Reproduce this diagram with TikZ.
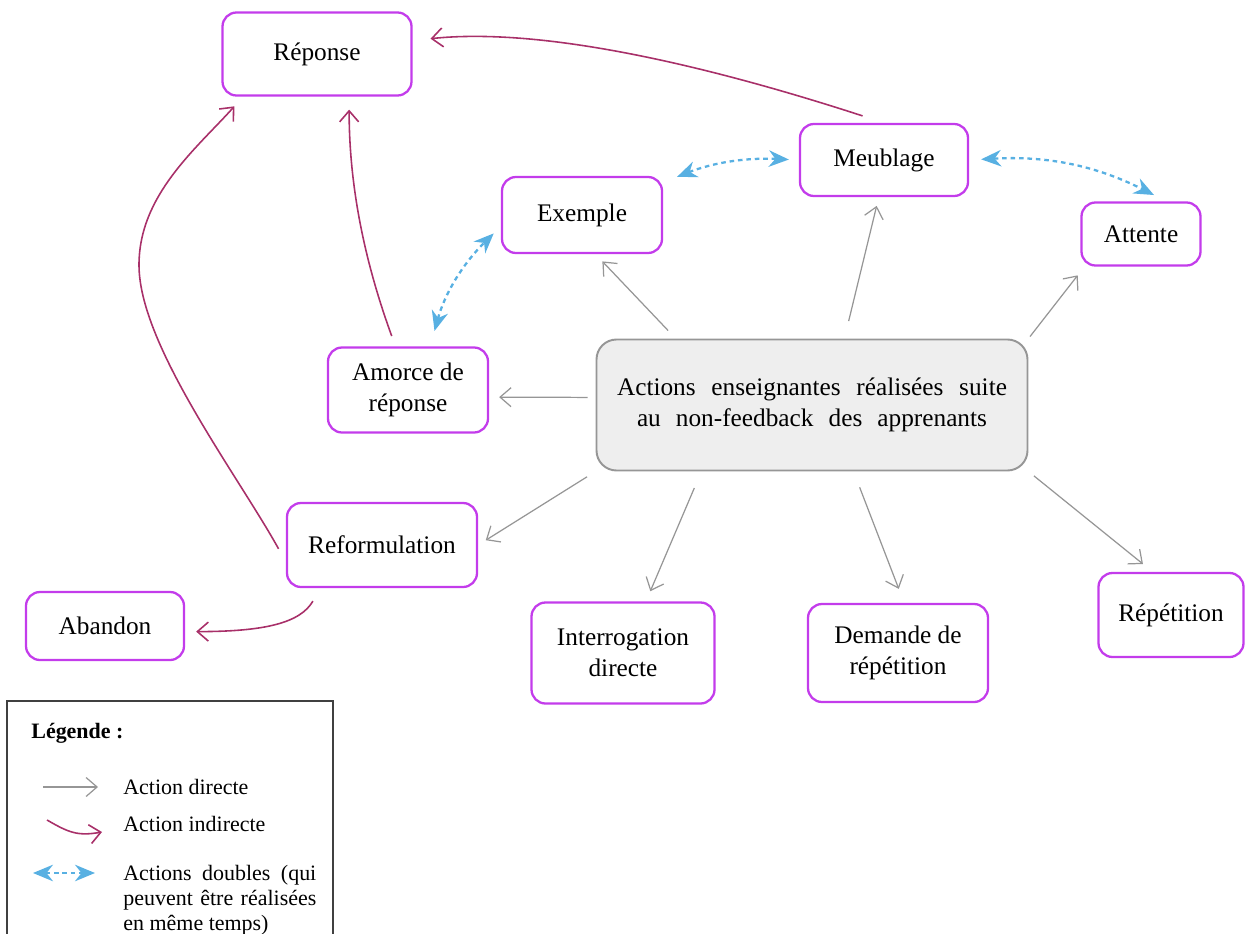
\documentclass[tikz,border=0pt]{standalone}
\usepackage{fontspec}
\setmainfont{Liberation Serif}
\usetikzlibrary{arrows.meta}
\definecolor{cadre}{RGB}{195,60,235}
\definecolor{gris}{RGB}{150,150,150}
\definecolor{indir}{RGB}{168,48,105}
\definecolor{bleu}{RGB}{88,176,226}
\definecolor{fond}{RGB}{238,238,238}

\begin{document}
\begin{tikzpicture}[
	boite/.style={draw=cadre, line width=1.3pt, rounded corners=0.28cm, align=center, inner sep=2pt, font=\fontsize{14.4}{17.5}\selectfont},
	directe/.style={gris, line width=0.7pt, -{Straight Barb[length=2.2mm,width=3.8mm]}},
	indirecte/.style={indir, line width=0.9pt, -{Straight Barb[length=2.2mm,width=3.8mm]}},
	doubles/.style={bleu, line width=1.3pt, dash pattern=on 2.6pt off 2.2pt, {Stealth[length=4mm,width=3.3mm]}-{Stealth[length=4mm,width=3.3mm]}},
	legende/.style={anchor=west, inner sep=0pt, font=\fontsize{12.5}{14.2}\selectfont}]
\useasboundingbox (0,0) rectangle (24.9,-18.68);
\node[boite, minimum width=3.78cm, minimum height=1.66cm] (rep) at (6.34,-1.08) {Réponse};
\node[boite, minimum width=3.36cm, minimum height=1.44cm] (meu) at (17.68,-3.2) {Meublage};
\node[boite, minimum width=3.2cm, minimum height=1.52cm] (exe) at (11.64,-4.3) {Exemple};
\node[boite, minimum width=2.38cm, minimum height=1.26cm] (att) at (22.82,-4.68) {Attente};
\node[boite, minimum width=3.2cm, minimum height=1.7cm] (amo) at (8.16,-7.8) {Amorce de\\réponse};
\node[draw=gris, fill=fond, line width=1.1pt, rounded corners=0.4cm, minimum width=8.62cm, minimum height=2.62cm, align=center, font=\fontsize{14.4}{18}\selectfont] (act) at (16.24,-8.1) {\makebox[7.8cm][s]{Actions enseignantes réalisées suite}\\\makebox[7cm][s]{au non-feedback des apprenants}};
\node[boite, minimum width=3.8cm, minimum height=1.68cm] (ref) at (7.64,-10.9) {Reformulation};
\node[boite, minimum width=3.16cm, minimum height=1.36cm] (aba) at (2.1,-12.52) {Abandon};
\node[boite, minimum width=3.66cm, minimum height=2.02cm] (int) at (12.46,-13.06) {Interrogation\\directe};
\node[boite, minimum width=3.6cm, minimum height=1.96cm] (dem) at (17.96,-13.06) {Demande de\\répétition};
\node[boite, minimum width=2.9cm, minimum height=1.68cm] (rpt) at (23.42,-12.3) {Répétition};
\coordinate (cb) at (2.78,-5.3);

\draw[directe, shorten <=0.22cm, shorten >=0.2cm] (act.154) -- (exe.289);
\draw[directe, shorten <=0.36cm, shorten >=0.18cm] (act.64) -- (meu.262);
\draw[directe, shorten <=0.05cm, shorten >=0.22cm] (act.north east) -- (att.210);
\draw[directe, shorten <=0.16cm, shorten >=0.2cm] (act.178) -- (amo.-5);
\draw[directe, shorten <=0.2cm, shorten >=0.18cm] (act.south west) -- (ref.east);
\draw[directe, shorten <=0.36cm, shorten >=0.22cm] (act.211) -- (int.66);
\draw[directe, shorten <=0.34cm, shorten >=0.3cm] (act.302) -- (dem.83);
\draw[directe, shorten <=0.14cm, shorten >=0.25cm] (act.south east) -- (rpt.113);

\draw[indirecte, shorten <=0.45cm, shorten >=0.36cm] (meu.north)..controls +(162:4) and +(6:2.5)..(rep.8);
\draw[indirecte, shorten <=0.22cm, shorten >=0.26cm] (amo.106)..controls +(110:1.8) and +(270:1.8)..(rep.307);
\draw[indirecte, shorten <=0.3cm, shorten >=0.26cm] (ref.190)..controls +(119:2) and +(270:1.6)..(cb)..controls +(90:1.4) and +(228:1.4)..(rep.210);
\draw[indirecte, shorten <=0.3cm, shorten >=0.22cm] (ref.215)..controls +(240:0.8) and +(0:1.6)..(aba.-4);

\draw[doubles, shorten <=0.3cm, shorten >=0.2cm] (exe.22) to[bend left=12] (meu.west);
\draw[doubles, shorten <=0.24cm, shorten >=0.28cm] (meu.east) to[bend left=15] (att.52);
\draw[doubles, shorten <=0.32cm, shorten >=0.2cm] (amo.63) to[bend left=15] (exe.188);

\draw[line width=0.6pt, black!75] (0.14,-19) |- (6.66,-14.02) -- (6.66,-19);
\node[legende, font=\fontsize{12.5}{14.2}\selectfont\bfseries] (leg) at (0.62,-14.66) {Légende~:};
\node[legende] (tdir) at (2.46,-15.74) {Action directe};
\node[legende] (tind) at (2.46,-16.48) {Action indirecte};
\node[legende, anchor=north west, text width=3.86cm, align=justify] (tdbl) at (2.46,-17.3) {Actions doubles (qui\linebreak peuvent être réalisées\linebreak en même temps)};
\coordinate (ldir) at (0.86,-15.74);
\coordinate (lind) at (0.94,-16.4);
\coordinate (ldbl) at (0.66,-17.46);
\draw[directe] (ldir) -- ([xshift=-0.5cm]tdir.west);
\draw[indirecte] (lind)..controls +(-30:0.5) and +(190:0.5)..([xshift=-0.42cm,yshift=-0.16cm]tind.west);
\draw[doubles] (ldbl) -- ([xshift=-0.56cm,yshift=-0.16cm]tdbl.north west);
\end{tikzpicture}
\end{document}
